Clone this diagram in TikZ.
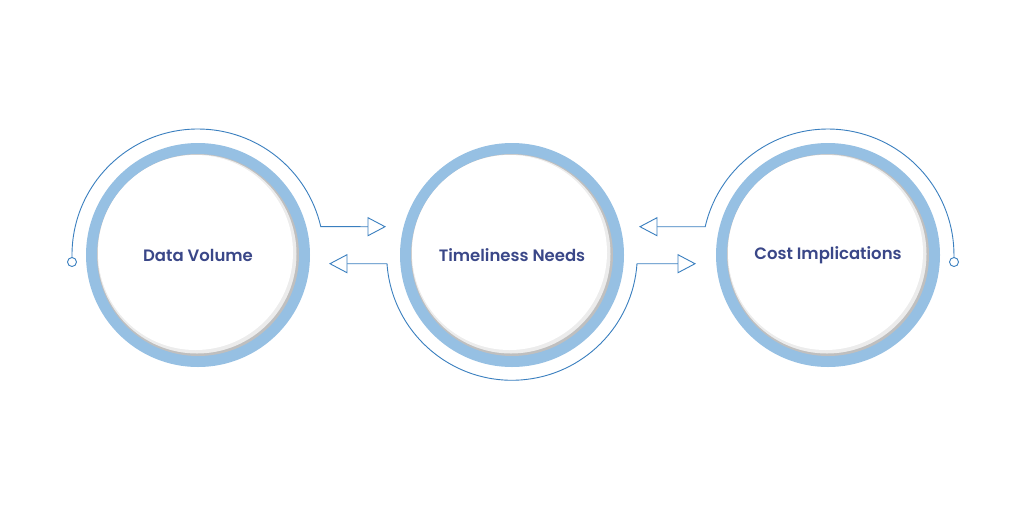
\documentclass[tikz,border=0pt]{standalone}
\usepackage{fontspec}
\setmainfont{Poppins}[UprightFont=* SemiBold]
\begin{document}
\begin{tikzpicture}[x=1pt,y=-1pt]
\definecolor{ring}{HTML}{96C0E3}
\definecolor{lin}{HTML}{3A7FBF}
\definecolor{txt}{HTML}{3A4788}
\tikzset{ln/.style={draw=lin,line width=0.9pt},
 tri/.style={draw=lin,line width=0.9pt,fill=white},
 lbl/.style={text=txt,font=\fontsize{16.5}{18}\selectfont}}
\useasboundingbox[fill=white] (0,0) rectangle (1024,512);
\foreach \n/\cx in {a/198,b/512,c/828}{
 \fill[ring] (\cx,255) circle (112);
 \fill[gray!50] (\cx,255) circle (101);
 \fill[gray!15] (\cx-1,254) circle (99.5);
 \fill[white] (\cx-2.5,252.5) circle (97.5);
}
\node[lbl] (a) at (198,255) {Data Volume};
\node[lbl] (b) at (512,255) {Timeliness Needs};
\node[lbl] (c) at (828,255) {Cost Implications};
% left
\coordinate (d1) at (72,262);
\draw[ln] (72,258) -- (72,255) arc[start angle=180,end angle=347,radius=126] -- (368,226.7);
\draw[tri] (368,217.7) -- (385,226.7) -- (368,235.7) -- cycle;
\draw[ln,fill=white] (d1) circle (4.5);
% middle
\draw[ln] (347,263.7) -- (387.0,263.7) arc[start angle=176,end angle=4,radius=125.3] -- (678,263.7);
\draw[tri] (347,254.7) -- (330,263.7) -- (347,272.7) -- cycle;
\draw[tri] (678,254.7) -- (695,263.7) -- (678,272.7) -- cycle;
% right
\coordinate (d2) at (954,262);
\draw[ln] (657,226.7) -- (705.2,226.7) arc[start angle=193,end angle=360,radius=126] -- (954,258);
\draw[tri] (657,217.7) -- (640,226.7) -- (657,235.7) -- cycle;
\draw[ln,fill=white] (d2) circle (4.5);
\end{tikzpicture}
\end{document}
